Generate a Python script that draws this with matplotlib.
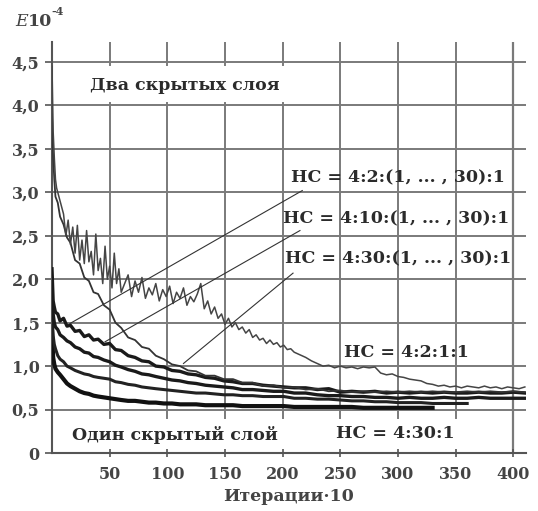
import numpy as np
import matplotlib.pyplot as plt

# main curve, HC = 4:2:1:1
m_x = np.concatenate([[0, 1, 2, 3, 4, 5, 6], np.arange(8, 61, 2), np.arange(63, 208, 3), np.arange(210, 411, 5)])
m_y = [4.45, 3.7, 3.4, 3.15, 3.05, 3.0, 2.95,
       2.85, 2.75, 2.5, 2.68, 2.4, 2.6, 2.3, 2.62, 2.22, 2.45, 2.18, 2.56, 2.2, 2.32, 2.05,
       2.52, 2.1, 2.24, 1.95, 2.38, 2.0, 2.15, 1.9, 2.3, 1.95, 2.12, 1.85,
       1.95, 2.05, 1.8, 1.98, 1.85, 2.02, 1.78, 1.9, 1.82, 1.95, 1.75, 1.88, 1.8, 1.92, 1.72,
       1.85, 1.78, 1.9, 1.7, 1.8, 1.74, 1.83, 1.95, 1.66, 1.75, 1.6, 1.68, 1.55, 1.6, 1.48,
       1.55, 1.45, 1.5, 1.42, 1.45, 1.38, 1.42, 1.33, 1.36, 1.3, 1.32, 1.26, 1.3, 1.25, 1.27,
       1.22, 1.24, 1.19, 1.2,
       1.16, 1.13, 1.1, 1.06, 1.03, 1.0, 1.01, 0.98, 1.0, 0.98, 0.99, 0.97, 0.99, 0.98, 0.99,
       0.92, 0.9, 0.91, 0.88, 0.87, 0.85, 0.84, 0.83, 0.8, 0.79, 0.77, 0.78, 0.76, 0.77, 0.75,
       0.77, 0.76, 0.75, 0.77, 0.75, 0.76, 0.74, 0.76, 0.75, 0.74, 0.76]

# family of curves (1, ... , 30) and one-hidden-layer curves
f_x = [0, 1, 2, 3, 5, 7, 10, 13, 16, 20, 24, 28, 32, 36, 40, 45, 50, 55, 60, 66, 72, 78, 84, 90,
       97, 104, 111, 118, 125, 133, 141, 149, 157, 165, 174, 183, 192, 201, 210, 220, 230, 240,
       250, 260, 270, 280, 290, 300, 310, 320, 330, 340, 350, 360, 370, 380, 390, 400, 410]

s_y = [3.9, 3.4, 3.15, 2.95, 2.88, 2.72, 2.63, 2.48, 2.42, 2.22, 2.18, 2.02, 1.98, 1.85, 1.83, 1.7,
       1.65, 1.5, 1.44, 1.33, 1.3, 1.22, 1.2, 1.12, 1.08, 1.02, 1.0, 0.95, 0.94, 0.89, 0.89, 0.85,
       0.85, 0.81, 0.81, 0.77, 0.78, 0.75, 0.76, 0.73, 0.74, 0.71, 0.72, 0.7, 0.71, 0.7, 0.71,
       0.7, 0.71, 0.7, 0.71, 0.7, 0.7, 0.71, 0.7, 0.71, 0.7, 0.71, 0.7]
f1_y = [2.12, 1.75, 1.68, 1.62, 1.6, 1.52, 1.55, 1.46, 1.47, 1.4, 1.41, 1.34, 1.36, 1.3, 1.31, 1.25,
        1.26, 1.19, 1.18, 1.12, 1.1, 1.06, 1.05, 1.0, 0.99, 0.95, 0.94, 0.91, 0.9, 0.87, 0.86, 0.83,
        0.82, 0.8, 0.8, 0.78, 0.77, 0.76, 0.75, 0.75, 0.73, 0.74, 0.7, 0.71, 0.7, 0.71, 0.69, 0.7,
        0.69, 0.7, 0.69, 0.7, 0.69, 0.69, 0.7, 0.69, 0.69, 0.7, 0.69]
f2_y = [1.85, 1.6, 1.5, 1.45, 1.42, 1.36, 1.33, 1.29, 1.27, 1.22, 1.2, 1.16, 1.15, 1.11, 1.1, 1.07,
        1.05, 1.01, 0.99, 0.96, 0.94, 0.91, 0.9, 0.88, 0.86, 0.84, 0.83, 0.81, 0.8, 0.78, 0.77,
        0.76, 0.75, 0.73, 0.73, 0.72, 0.71, 0.71, 0.69, 0.69, 0.67, 0.66, 0.66, 0.65, 0.65, 0.64,
        0.64, 0.63, 0.64, 0.63, 0.63, 0.64, 0.63, 0.63, 0.64, 0.63, 0.63, 0.63, 0.63]
f3_y = [1.6, 1.35, 1.25, 1.2, 1.12, 1.08, 1.05, 1.0, 0.98, 0.95, 0.93, 0.91, 0.9, 0.88, 0.87, 0.86,
        0.85, 0.82, 0.81, 0.79, 0.78, 0.76, 0.75, 0.74, 0.73, 0.72, 0.71, 0.7, 0.69, 0.69, 0.68,
        0.67, 0.67, 0.66, 0.66, 0.65, 0.65, 0.65, 0.63, 0.63, 0.62, 0.62, 0.61, 0.6, 0.6, 0.59,
        0.59, 0.58, 0.58, 0.58, 0.57, 0.57, 0.57, 0.57]
f4_y = [1.4, 1.1, 1.02, 0.97, 0.93, 0.9, 0.85, 0.8, 0.77, 0.74, 0.71, 0.69, 0.68, 0.66, 0.65, 0.64,
        0.63, 0.62, 0.61, 0.6, 0.6, 0.59, 0.58, 0.58, 0.57, 0.57, 0.56, 0.56, 0.56, 0.55, 0.55,
        0.55, 0.55, 0.54, 0.54, 0.54, 0.54, 0.54, 0.53, 0.53, 0.53, 0.53, 0.53, 0.53, 0.52, 0.52,
        0.52, 0.52, 0.52, 0.52, 0.52]

x_ticks = [50, 100, 150, 200, 250, 300, 350, 400]
y_ticks = [0, 0.5, 1.0, 1.5, 2.0, 2.5, 3.0, 3.5, 4.0, 4.5]
y_labels = ['0', '0,5', '1,0', '1,5', '2,0', '2,5', '3,0', '3,5', '4,0', '4,5']

labels = ['НС = 4:2:(1, ... , 30):1', 'НС = 4:10:(1, ... , 30):1', 'НС = 4:30:(1, ... , 30):1']
label_pos = [(207, 3.17), (200, 2.70), (202, 2.23)]
leaders = [((15.6, 1.49), (217, 3.02)), ((46, 1.28), (215, 2.56)), ((114, 1.03), (209, 2.07))]

plt.rcParams['font.family'] = ['DejaVu Serif']
ink = '#2b2b2b'
grid_c = '#7a7a7a'
fs = 12.5
tick_fs = 11.5

fig = plt.figure(figsize=(5.38, 5.11), dpi=100)
ax = fig.add_axes([52 / 538, 1 - 453 / 511, 474 / 538, 411 / 511])
ax.set_xlim(0, 411)
ax.set_ylim(0, 4.73)

# grid
for yv in y_ticks[1:]:
    ax.plot([0, 411], [yv, yv], color=grid_c, lw=1.4, zorder=1, solid_capstyle='butt')
for xv in x_ticks:
    if xv == 400:
        ax.plot([xv, xv], [0, 4.73], color=grid_c, lw=1.6, zorder=1)
    elif xv <= 200:
        ax.plot([xv, xv], [0.4, 4.03], color=grid_c, lw=1.4, zorder=1)
        ax.plot([xv, xv], [4.47, 4.73], color=grid_c, lw=1.4, zorder=1)
    else:
        ax.plot([xv, xv], [0.4, 4.73], color=grid_c, lw=1.4, zorder=1)

# curves
ax.plot(f_x[:len(f4_y)], f4_y, color='#111111', lw=3.0, zorder=3)
ax.plot(f_x[:len(f3_y)], f3_y, color='#222222', lw=2.2, zorder=3)
ax.plot(f_x, f2_y, color='#1a1a1a', lw=2.4, zorder=3)
ax.plot(f_x, f1_y, color='#1a1a1a', lw=2.4, zorder=3)
ax.plot(f_x, s_y, color='#333333', lw=1.3, zorder=3)
ax.plot(m_x, m_y, color='#454545', lw=1.1, zorder=4)

# leader lines and labels
for (p0, p1) in leaders:
    ax.plot([p0[0], p1[0]], [p0[1], p1[1]], color='#333333', lw=0.8, zorder=5)
for txt, (tx, ty) in zip(labels, label_pos):
    ax.text(tx, ty, txt, fontsize=fs, fontweight='bold', color=ink, va='center', ha='left', zorder=6)
ax.text(253, 1.16, 'НС = 4:2:1:1', fontsize=fs, fontweight='bold', color=ink, va='center', zorder=6)
ax.text(246, 0.23, 'НС = 4:30:1', fontsize=fs, fontweight='bold', color=ink, va='center', zorder=6)
ax.text(17, 0.21, 'Один скрытый слой', fontsize=fs, fontweight='bold', color=ink, va='center', zorder=6)
ax.text(33, 4.23, 'Два скрытых слоя', fontsize=fs, fontweight='bold', color=ink, va='center', zorder=6)

# axes
for side in ['top', 'right']:
    ax.spines[side].set_visible(False)
for side in ['left', 'bottom']:
    ax.spines[side].set_color('#555555')
    ax.spines[side].set_linewidth(1.5)
ax.set_xticks(x_ticks)
ax.set_xticklabels([str(v) for v in x_ticks])
ax.set_yticks(y_ticks)
ax.set_yticklabels(y_labels)
ax.tick_params(axis='x', direction='inout', length=6, width=1.2, color='#555555', pad=6)
ax.tick_params(axis='y', direction='out', length=5, width=1.2, color='#555555', pad=4)
for lab in ax.get_xticklabels() + ax.get_yticklabels():
    lab.set_fontsize(tick_fs)
    lab.set_fontweight('bold')
    lab.set_color('#444444')

ax.set_xlabel('Итерации·10', fontsize=fs, fontweight='bold', color='#444444', labelpad=4)

fig.text(15 / 538, 1 - 22 / 511, 'E', fontsize=fs, fontstyle='italic', color='#444444', va='center')
fig.text(28 / 538, 1 - 22 / 511, '10', fontsize=fs, fontweight='bold', color='#444444', va='center')
fig.text(51 / 538, 1 - 11 / 511, '-4', fontsize=8, fontweight='bold', color='#444444', va='center')

fig.savefig('out.png', dpi=100)
